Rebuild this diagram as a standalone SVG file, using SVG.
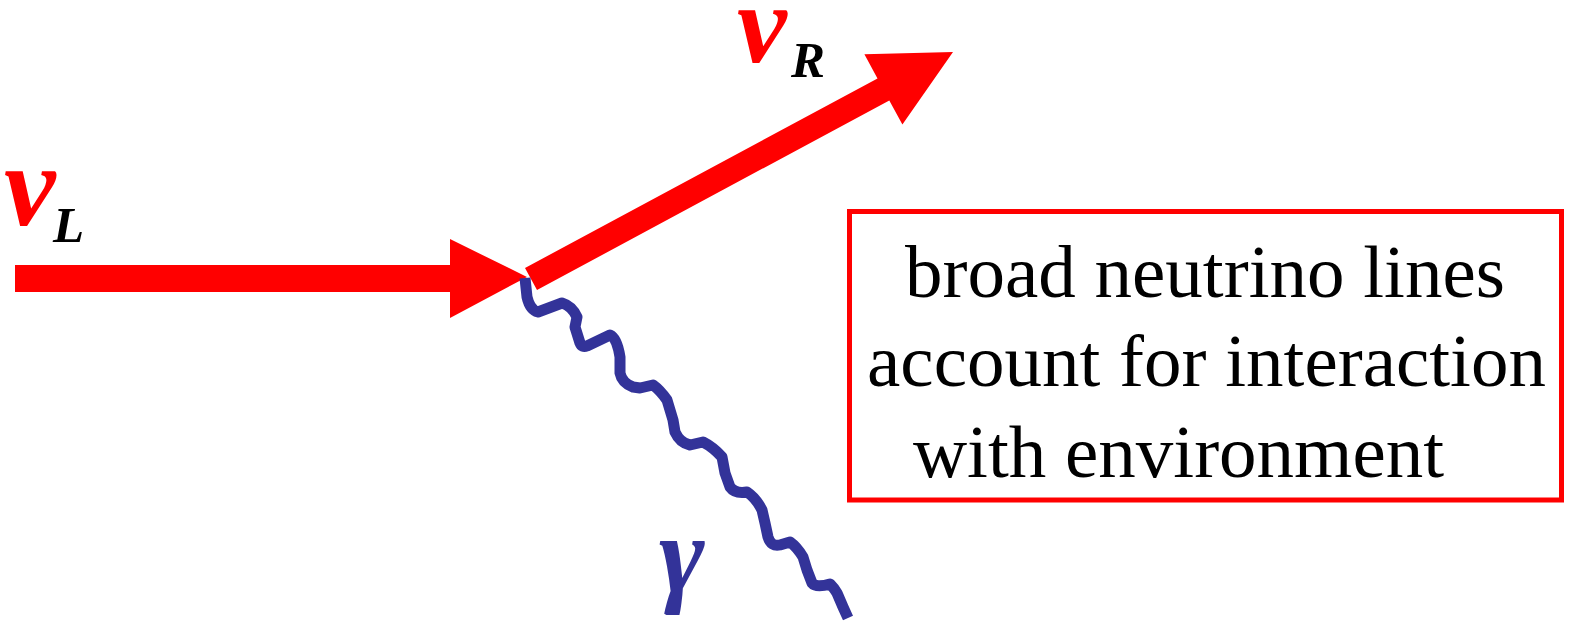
<svg xmlns="http://www.w3.org/2000/svg" width="1569" height="624" viewBox="0 0 1569 624">
<style>
.arrow{fill:#FF0000;stroke:none}
.photon{fill:none;stroke:#333399;stroke-width:11;stroke-linejoin:round;stroke-linecap:butt}
.sym{font-family:"Liberation Serif","Times New Roman",serif;font-style:italic;font-weight:bold}
.box{fill:#FFFFFF;stroke:#FF0000;stroke-width:5}
.boxtext{font-family:"Liberation Serif","Times New Roman",serif;font-size:75px;fill:#000000;text-anchor:middle}
</style>
<rect width="1569" height="624" fill="#FFFFFF"/>
<g id="connectors">
<polygon id="nuL-arrow" class="arrow" points="15,265 450,265 450,239 527,277 450,318 450,292 15,292"/>
<polygon id="nuR-arrow" class="arrow" points="525,268 877.5,78.4 864.4,54.2 953,52 902.4,124.6 889.3,100.4 537,290"/>
<path id="photon" class="photon" d="M525,278 L527,297 Q530,310 538,312 L562,303 Q572,306 577,317 L575,327 L580,343 Q582,348 587,346 L610,335 Q617,338 620,357 L620,373 Q622,383 633,387 L640,388 L653,385 Q660,390 667,400 L673,420 L675,432 Q680,443 690,445 L703,442 Q713,447 722,457 L725,473 L730,487 Q735,494 747,492 Q756,498 762,510 L765,523 L768,537 Q771,547 780,545 L790,542 Q797,547 803,557 L807,570 L812,583 Q816,588 830,584 Q835,589 837,593 L843,607 L848,618"/>
</g>
<g id="label-nuL">
<text class="sym" x="4" y="225" font-size="116" fill="#FF0000">ν</text>
<text class="sym" x="53" y="242" font-size="51" fill="#000000">L</text>
</g>
<g id="label-nuR">
<text class="sym" x="737" y="62" font-size="112" fill="#FF0000">ν</text>
<text class="sym" x="791" y="77" font-size="51" fill="#000000">R</text>
</g>
<g id="label-gamma">
<text x="659" y="592" font-family="'Liberation Serif','Times New Roman',serif" font-style="italic" font-weight="bold" font-size="110" fill="#333399">γ</text>
</g>
<g id="note-box">
<rect class="box" x="849.5" y="211.5" width="712" height="288.5"/>
<text class="boxtext" x="1205" y="297">broad neutrino lines</text>
<text class="boxtext" x="1206.5" y="386">account for interaction</text>
<text class="boxtext" x="1178.5" y="477">with environment</text>
</g>
</svg>
